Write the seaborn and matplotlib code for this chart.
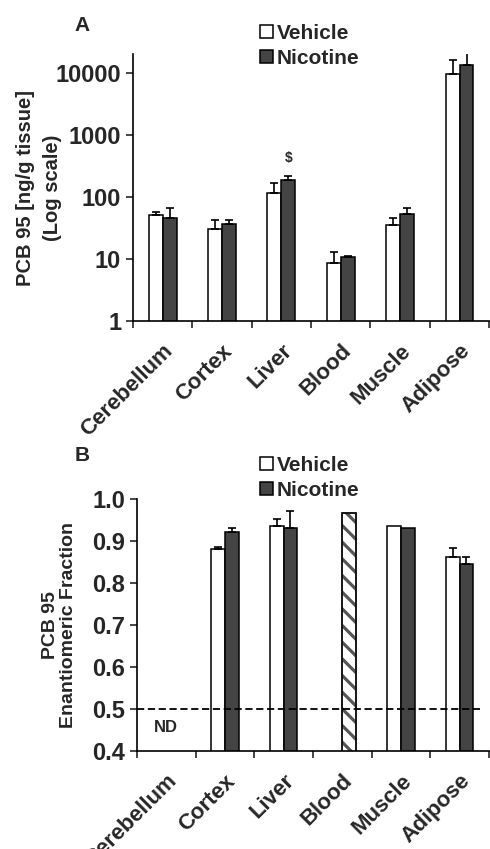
import matplotlib
matplotlib.use("Agg")
import matplotlib.pyplot as plt
import seaborn as sns
import pandas as pd
import numpy as np

# tissues and groups
tissues = ["Cerebellum", "Cortex", "Liver", "Blood", "Muscle", "Adipose"]
groups = ["Vehicle", "Nicotine"]

# panel A: PCB 95 levels, ng/g tissue (mean, upper SD)
conc_vehicle = [51, 30, 117, 8.6, 35, 9600]
conc_vehicle_err = [7, 12, 53, 4.3, 10, 6300]
conc_nicotine = [45, 36, 188, 10.8, 53, 13100]
conc_nicotine_err = [21, 7, 25, 0.5, 13, 7300]

# panel B: enantiomeric fraction (NaN = not detected / not shown)
ef_vehicle = [np.nan, 0.881, 0.936, np.nan, 0.935, 0.862]
ef_vehicle_err = [0, 0.004, 0.016, 0, 0, 0.022]
ef_nicotine = [np.nan, 0.921, 0.930, 0.967, 0.932, 0.845]
ef_nicotine_err = [0, 0.010, 0.042, 0, 0, 0.018]

sns.set_style("white")
plt.rcParams["font.family"] = ["Liberation Sans", "DejaVu Sans"]
plt.rcParams["font.weight"] = "bold"
plt.rcParams["axes.labelweight"] = "bold"
plt.rcParams["hatch.linewidth"] = 2.3

palette = {"Vehicle": "white", "Nicotine": "#444444"}


def long_df(v, n):
    rows = []
    for t, a, b in zip(tissues, v, n):
        rows.append((t, "Vehicle", a))
        rows.append((t, "Nicotine", b))
    return pd.DataFrame(rows, columns=["tissue", "group", "value"])


def find_bar(ax, group, tissue):
    cont = ax.containers[groups.index(group)]
    for bar in cont:
        if int(round(bar.get_x() + bar.get_width() / 2)) == tissues.index(tissue):
            return bar
    return None


def add_errors(ax, errs):
    for cont, g in zip(ax.containers, groups):
        for bar in cont:
            h = bar.get_height()
            if not np.isfinite(h):
                continue
            i = int(round(bar.get_x() + bar.get_width() / 2))
            e = errs[g][i]
            if e <= 0:
                continue
            ax.errorbar(bar.get_x() + bar.get_width() / 2, h, yerr=[[0], [e]],
                        fmt="none", ecolor="black", elinewidth=1.2,
                        capsize=3, capthick=1.2, zorder=1)


def style_axis(ax):
    sns.despine(ax=ax)
    for s in ["left", "bottom"]:
        ax.spines[s].set_linewidth(1.2)
        ax.spines[s].set_color("black")
    ax.set_xlim(-0.5, 5.5)
    ax.set_xticks(np.arange(-0.5, 6, 1), minor=True)
    ax.tick_params(axis="x", which="major", length=0, pad=14)
    ax.tick_params(axis="x", which="minor", length=5, width=1.2, direction="out", bottom=True)
    ax.tick_params(axis="y", which="major", length=5, width=1.2, direction="out", left=True,
                   labelsize=17)
    ax.tick_params(axis="y", which="minor", left=False)
    ax.set_xticks(range(len(tissues)))
    ax.set_xticklabels(tissues, rotation=45, ha="right", rotation_mode="anchor",
                       fontsize=16, fontweight="bold")
    for lab in ax.get_yticklabels():
        lab.set_fontweight("bold")
    ax.set_xlabel("")


fig = plt.figure(figsize=(4.9, 8.49), dpi=100)

# ---- panel A
axA = fig.add_axes([0.2714, 0.6219, 0.727, 0.3145])
dfA = long_df(conc_vehicle, conc_nicotine)
sns.barplot(data=dfA, x="tissue", y="value", hue="group", order=tissues, hue_order=groups,
            palette=palette, edgecolor="black", linewidth=1.1, width=0.47,
            errorbar=None, ax=axA)
axA.set_yscale("log")
add_errors(axA, {"Vehicle": conc_vehicle_err, "Nicotine": conc_nicotine_err})
axA.set_ylim(1, 20000)
axA.set_yticks([1, 10, 100, 1000, 10000])
axA.set_yticklabels(["1", "10", "100", "1000", "10000"])
style_axis(axA)
axA.set_ylabel("PCB 95 [ng/g tissue]\n(Log scale)", fontsize=14.5, fontweight="bold",
               linespacing=1.5)
axA.yaxis.set_label_coords(-0.20, 0.5)

# "$" over the nicotine liver bar
liver_bar = find_bar(axA, "Nicotine", "Liver")
axA.text(liver_bar.get_x() + liver_bar.get_width() / 2,
         (conc_nicotine[2] + conc_nicotine_err[2]) * 2.0, "$",
         ha="center", va="center", fontsize=10, fontweight="bold")

hA, lA = axA.get_legend_handles_labels()
axA.legend(hA, lA, loc="center", bbox_to_anchor=(0.632, 0.946),
           bbox_transform=fig.transFigure, frameon=False, fontsize=15,
           handlelength=0.6, handleheight=0.6, handletextpad=0.2, labelspacing=0.3,
           borderpad=0)
fig.text(0.167, 0.970, "A", fontsize=15, fontweight="bold", ha="center", va="center")

# ---- panel B
axB = fig.add_axes([0.2796, 0.1154, 0.718, 0.2968])
dfB = long_df(ef_vehicle, ef_nicotine)
sns.barplot(data=dfB, x="tissue", y="value", hue="group", order=tissues, hue_order=groups,
            palette=palette, edgecolor="black", linewidth=1.1, width=0.47,
            errorbar=None, ax=axB)
add_errors(axB, {"Vehicle": ef_vehicle_err, "Nicotine": ef_nicotine_err})
axB.set_ylim(0.4, 1.0)
axB.set_yticks(np.arange(0.4, 1.01, 0.1))
axB.set_yticklabels([f"{v:.1f}" for v in np.arange(0.4, 1.01, 0.1)])
style_axis(axB)
axB.set_ylabel("PCB 95\nEnantiomeric Fraction", fontsize=14, fontweight="bold",
               linespacing=1.1)
axB.yaxis.set_label_coords(-0.17, 0.5)

# blood nicotine bar drawn hatched
blood_bar = find_bar(axB, "Nicotine", "Blood")
blood_bar.set_facecolor("white")
blood_bar.set_edgecolor("#555555")
blood_bar.set_hatch("\\\\")
axB.add_patch(plt.Rectangle(blood_bar.get_xy(), blood_bar.get_width(), blood_bar.get_height(),
                            fill=False, edgecolor="black", linewidth=1.1, zorder=3))

axB.axhline(0.5, xmin=0, xmax=0.975, color="black", linestyle=(0, (4, 2)), linewidth=1.3,
            zorder=4)
axB.text(0, 0.455, "ND", ha="center", va="center", fontsize=12, fontweight="bold")

hB, lB = axB.get_legend_handles_labels()
axB.legend(hB, lB, loc="center", bbox_to_anchor=(0.632, 0.437),
           bbox_transform=fig.transFigure, frameon=False, fontsize=15,
           handlelength=0.6, handleheight=0.6, handletextpad=0.2, labelspacing=0.3,
           borderpad=0)
fig.text(0.167, 0.463, "B", fontsize=15, fontweight="bold", ha="center", va="center")

fig.savefig("out.png", dpi=100)
plt.close(fig)
